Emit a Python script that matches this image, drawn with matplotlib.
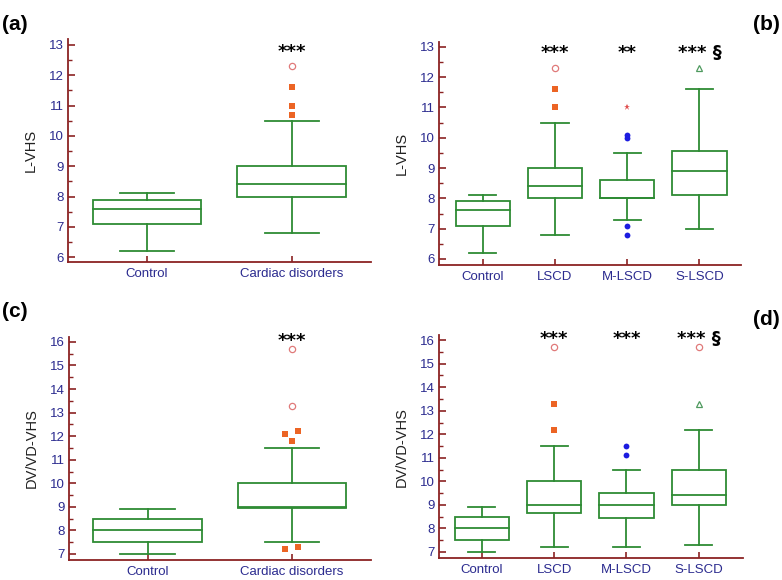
import matplotlib
matplotlib.use("Agg")
import matplotlib.pyplot as plt
import numpy as np
from matplotlib.ticker import MultipleLocator

# ---- data (box stats: whisker low, Q1, median, Q3, whisker high) ----
groups_2 = ["Control", "Cardiac disorders"]
groups_4 = ["Control", "LSCD", "M-LSCD", "S-LSCD"]

lvhs_control = [6.2, 7.1, 7.6, 7.9, 8.1]
lvhs_cardiac = [6.8, 8.0, 8.4, 9.0, 10.5]
lvhs_lscd = [6.8, 8.0, 8.4, 9.0, 10.5]
lvhs_mlscd = [7.3, 8.0, 8.0, 8.6, 9.5]
lvhs_slscd = [7.0, 8.1, 8.9, 9.55, 11.6]

dv_control = [7.0, 7.5, 8.0, 8.5, 8.9]
dv_cardiac = [7.5, 8.95, 9.0, 10.0, 11.5]
dv_lscd = [7.2, 8.67, 9.0, 10.0, 11.5]
dv_mlscd = [7.2, 8.45, 9.0, 9.5, 10.5]
dv_slscd = [7.3, 9.0, 9.4, 10.5, 12.2]

# outliers, by kind
lvhs_cardiac_far = [12.3]
lvhs_cardiac_out = [10.7, 11.0, 11.6]
lvhs_lscd_far = [12.3]
lvhs_lscd_out = [11.0, 11.6]
lvhs_mlscd_star = [11.0]
lvhs_mlscd_dots = [6.8, 7.1, 10.0, 10.1]
lvhs_slscd_tri = [12.3]

dv_cardiac_far = [13.3, 15.7]
dv_cardiac_out = [7.2, 7.3, 11.8, 12.1, 12.2]
dv_lscd_far = [15.7]
dv_lscd_out = [12.2, 13.3]
dv_mlscd_dots = [11.1, 11.5]
dv_slscd_tri = [13.3]
dv_slscd_far = [15.7]

sig_a = ["", "***"]
sig_b = ["", "***", "**", "*** §"]
sig_c = ["", "***"]
sig_d = ["", "***", "***", "*** §"]

# ---- styles ----
GREEN = "#2e8b34"
SPINE = "#8b2323"
TICKC = "#2b2b8f"
plt.rcParams["font.family"] = ["Liberation Sans", "DejaVu Sans"]

outlier_styles = {
    "far": dict(marker="o", ms=4.5, mfc="none", mec="#e07a7a", mew=0.9),
    "out": dict(marker="s", ms=4.2, mfc="#ec6424", mec="#ec6424", mew=0),
    "dots": dict(marker="o", ms=4.2, mfc="#1c1ce0", mec="#1c1ce0", mew=0),
    "star": dict(marker="*", ms=5, mfc="#e05050", mec="#e05050", mew=0),
    "tri": dict(marker="^", ms=5, mfc="none", mec="#4f9a5f", mew=0.9),
}


def draw_box(ax, x, st, w=0.75):
    lo, q1, med, q3, hi = st
    ax.add_patch(plt.Rectangle((x - w / 2, q1), w, q3 - q1, fill=False,
                               ec=GREEN, lw=1.3, zorder=3))
    ax.plot([x - w / 2, x + w / 2], [med, med], color=GREEN, lw=1.3, zorder=3)
    ax.plot([x, x], [q3, hi], color=GREEN, lw=1.3, zorder=3)
    ax.plot([x, x], [lo, q1], color=GREEN, lw=1.3, zorder=3)
    ax.plot([x - w / 4, x + w / 4], [hi, hi], color=GREEN, lw=1.3, zorder=3)
    ax.plot([x - w / 4, x + w / 4], [lo, lo], color=GREEN, lw=1.3, zorder=3)


def draw_outliers(ax, x, vals, kind, dodge=False):
    vals = sorted(vals)
    xs = [x] * len(vals)
    if dodge:
        # spread pairs of close points a little apart
        i = 0
        while i < len(vals) - 1:
            if vals[i + 1] - vals[i] < 0.2:
                xs[i] = x - 0.045
                xs[i + 1] = x + 0.045
                i += 2
            else:
                i += 1
    ax.plot(xs, vals, ls="none", zorder=4, **outlier_styles[kind])


def style_axes(ax, labels, ylabel, ylim, xlim):
    ax.set_xlim(*xlim)
    ax.set_ylim(*ylim)
    for s in ["top", "right"]:
        ax.spines[s].set_visible(False)
    for s in ["left", "bottom"]:
        ax.spines[s].set_color(SPINE)
        ax.spines[s].set_linewidth(1.3)
    ax.set_xticks(np.arange(1, len(labels) + 1))
    ax.set_xticklabels(labels)
    ax.yaxis.set_major_locator(MultipleLocator(1))
    ax.yaxis.set_minor_locator(MultipleLocator(0.5))
    ax.tick_params(axis="both", which="both", direction="in", color=SPINE,
                   labelcolor=TICKC, labelsize=9.5)
    ax.tick_params(axis="y", which="major", length=5, width=1.2, pad=3)
    ax.tick_params(axis="y", which="minor", length=3, width=1.0)
    ax.tick_params(axis="x", which="major", length=4, width=1.2, pad=4)
    ax.set_ylabel(ylabel, fontsize=10.5, color="#222222", labelpad=8)
    ax.set_facecolor("white")


def draw_sig(ax, sig, y):
    for i, s in enumerate(sig):
        if s:
            ax.text(i + 1, y, s, ha="center", va="center", fontsize=13,
                    fontweight="bold", color="black",
                    family=["DejaVu Sans"])


fig = plt.figure(figsize=(7.82, 5.80), dpi=100)
fig.patch.set_facecolor("white")

ax_a = fig.add_axes([0.087, 0.548, 0.387, 0.385])
ax_b = fig.add_axes([0.561, 0.543, 0.387, 0.385])
ax_c = fig.add_axes([0.088, 0.0345, 0.386, 0.3845])
ax_d = fig.add_axes([0.561, 0.038, 0.389, 0.384])

# (a)
draw_box(ax_a, 1, lvhs_control)
draw_box(ax_a, 2, lvhs_cardiac)
draw_outliers(ax_a, 2, lvhs_cardiac_out, "out")
draw_outliers(ax_a, 2, lvhs_cardiac_far, "far")
style_axes(ax_a, groups_2, "L-VHS", (5.835, 13.2), (0.455, 2.545))
draw_sig(ax_a, sig_a, 12.78)

# (b)
for i, st in enumerate([lvhs_control, lvhs_lscd, lvhs_mlscd, lvhs_slscd]):
    draw_box(ax_b, i + 1, st)
draw_outliers(ax_b, 2, lvhs_lscd_out, "out")
draw_outliers(ax_b, 2, lvhs_lscd_far, "far")
draw_outliers(ax_b, 3, lvhs_mlscd_dots, "dots")
draw_outliers(ax_b, 3, lvhs_mlscd_star, "star")
draw_outliers(ax_b, 4, lvhs_slscd_tri, "tri")
style_axes(ax_b, groups_4, "L-VHS", (5.80, 13.165), (0.39, 4.58))
draw_sig(ax_b, sig_b, 12.78)

# (c)
draw_box(ax_c, 1, dv_control)
draw_box(ax_c, 2, dv_cardiac)
draw_outliers(ax_c, 2, dv_cardiac_out, "out", dodge=True)
draw_outliers(ax_c, 2, dv_cardiac_far, "far")
style_axes(ax_c, groups_2, "DV/VD-VHS", (6.745, 16.21), (0.455, 2.545))
draw_sig(ax_c, sig_c, 16.05)

# (d)
for i, st in enumerate([dv_control, dv_lscd, dv_mlscd, dv_slscd]):
    draw_box(ax_d, i + 1, st)
draw_outliers(ax_d, 2, dv_lscd_out, "out")
draw_outliers(ax_d, 2, dv_lscd_far, "far")
draw_outliers(ax_d, 3, dv_mlscd_dots, "dots")
draw_outliers(ax_d, 4, dv_slscd_tri, "tri")
draw_outliers(ax_d, 4, dv_slscd_far, "far")
style_axes(ax_d, groups_4, "DV/VD-VHS", (6.745, 16.21), (0.405, 4.61))
draw_sig(ax_d, sig_d, 16.05)

# panel letters
fig.text(0.003, 0.975, "(a)", fontsize=15, fontweight="bold", va="top")
fig.text(0.997, 0.975, "(b)", fontsize=15, fontweight="bold", va="top", ha="right")
fig.text(0.003, 0.48, "(c)", fontsize=15, fontweight="bold", va="top")
fig.text(0.997, 0.465, "(d)", fontsize=15, fontweight="bold", va="top", ha="right")

fig.savefig("out.png", dpi=100)
